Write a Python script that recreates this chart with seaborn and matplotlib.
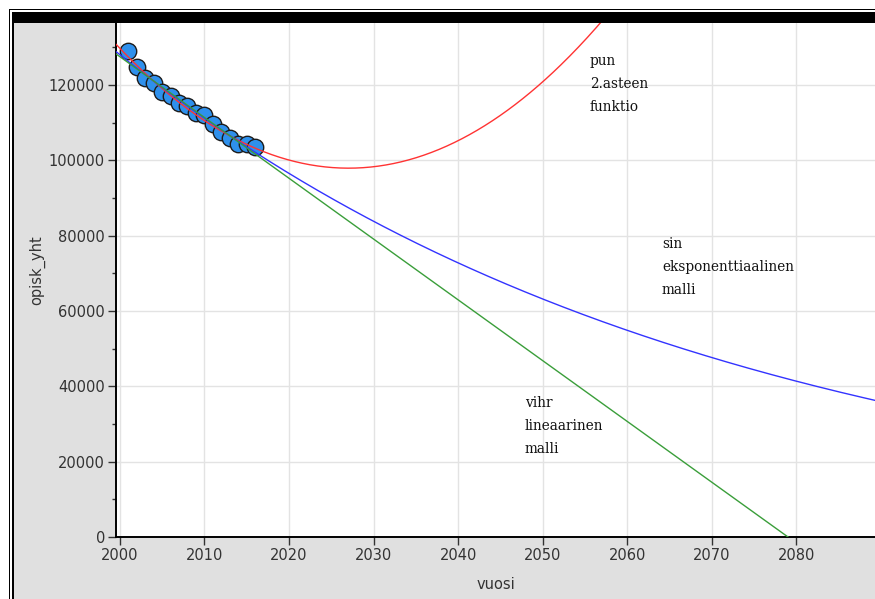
import numpy as np
import pandas as pd
import matplotlib
matplotlib.use("Agg")
import matplotlib.pyplot as plt
from matplotlib.patches import Rectangle
import seaborn as sns

# ---- data ----
vuosi = [2001, 2002, 2003, 2004, 2005, 2006, 2007, 2008,
         2009, 2010, 2011, 2012, 2013, 2014, 2015, 2016]
opisk_yht = [129000, 124850, 121900, 120600, 118050, 117150, 115300, 114400,
             112500, 111900, 109550, 107600, 106000, 104250, 104200, 103650]
x_ticks = [2000, 2010, 2020, 2030, 2040, 2050, 2060, 2070, 2080]
y_ticks = [0, 20000, 40000, 60000, 80000, 100000, 120000]
labels_red = "pun\n2.asteen\nfunktio"
labels_blue = "sin\neksponenttiaalinen\nmalli"
labels_green = "vihr\nlineaarinen\nmalli"

df = pd.DataFrame({"vuosi": vuosi, "opisk_yht": opisk_yht})

sns.set_style("white")
plt.rcParams['font.family'] = ['DejaVu Sans']

fig = plt.figure(figsize=(8.75, 5.99), dpi=100)
W, H = 875, 599
def fx(px): return px / W
def fy(py): return 1 - py / H

# frame decorations
def rect(x0, y0, x1, y1, color, z):
    fig.patches.append(Rectangle((fx(x0), fy(y1)), fx(x1) - fx(x0), fy(y0) - fy(y1),
                                 transform=fig.transFigure, facecolor=color,
                                 edgecolor="none", zorder=z))
rect(13, 23, 875, 599, "#e0e0e0", -10)
rect(13, 12, 875, 23, "black", -9)
rect(12, 12, 13.5, 599, "black", -9)
rect(9, 9, 10.2, 599, "black", -9)
rect(9, 9, 875, 10.2, "black", -9)

ax = fig.add_axes([fx(116), fy(537), 1 - fx(116), fy(23) - fy(537)])
ax.set_zorder(5)
ax.set_facecolor("white")

xmin, xmax = 1999.55, 2089.3
ymin, ymax = 0, 136450

# models fitted from the data
xs = np.linspace(xmin, xmax, 600)
lin = np.polyfit(vuosi, opisk_yht, 1)
quad = np.polyfit(np.array(vuosi) - 2000, opisk_yht, 2)
expc = np.polyfit(vuosi, np.log(opisk_yht), 1)

sns.scatterplot(data=df, x="vuosi", y="opisk_yht", ax=ax, s=140,
                color="#2e90ec", edgecolor="#1c1c1c", linewidth=1.0, zorder=3)
ax.plot(xs, np.polyval(quad, xs - 2000), color="#ff3333", lw=1.0, zorder=4)
ax.plot(xs, np.exp(np.polyval(expc, xs)), color="#3333ff", lw=1.0, zorder=4)
ax.plot(xs, np.polyval(lin, xs), color="#3a9e3a", lw=1.0, zorder=4)

ax.set_xlim(xmin, xmax)
ax.set_ylim(ymin, ymax)
ax.set_xticks(x_ticks)
ax.set_yticks(y_ticks)
ax.set_yticks(np.arange(10000, 136000, 20000), minor=True)
ax.grid(True, which="major", color="#e3e3e3", lw=1.0, zorder=0)
ax.set_axisbelow(True)
for s in ["top", "right"]:
    ax.spines[s].set_visible(False)
for s in ["left", "bottom"]:
    ax.spines[s].set_color("black")
    ax.spines[s].set_linewidth(1.4)
ax.tick_params(axis="both", which="major", direction="out", length=6, width=1.0,
               color="#333333", labelsize=10.5, labelcolor="#333333", pad=2,
               left=True, bottom=True)
ax.tick_params(axis="y", which="minor", direction="out", length=3, width=1.0,
               color="#333333", left=True)
ax.set_xlabel("vuosi", fontsize=10.5, color="#333333", labelpad=10)
ax.set_ylabel("opisk_yht", fontsize=10.5, color="#333333")
ax.yaxis.set_label_coords(-0.0935, 0.52)

serif = dict(family="DejaVu Serif", fontsize=9.8, color="#111111", linespacing=1.85,
             va="center", ha="left", zorder=5)
ax.text(2055.6, 120260, labels_red, **serif)
ax.text(2064.1, 71680, labels_blue, **serif)
ax.text(2047.9, 29470, labels_green, **serif)

fig.savefig("out.png", dpi=100)
